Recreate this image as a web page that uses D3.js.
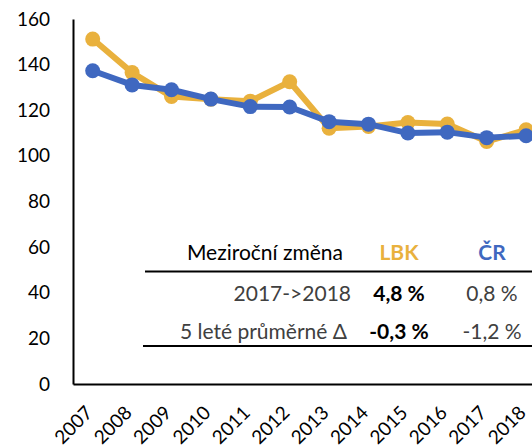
<!DOCTYPE html>
<html>
<head>
<meta charset="utf-8">
<script src="https://cdn.jsdelivr.net/npm/d3@7"></script>
<style>
    body { margin: 0; background: #fff; }
    svg { display: block; font-family: Lato, "Open Sans", sans-serif; }
</style>
</head>
<body>
<div class="graph"></div>
<script>
/* Chart data */
const years = ['2007','2008','2009','2010','2011','2012','2013','2014','2015','2016','2017','2018'];
const lbk = [151.2, 136.5, 126.0, 124.8, 124.0, 132.5, 112.1, 112.9, 114.6, 114.0, 106.3, 111.4];
const cr = [137.3, 131.1, 129.0, 124.9, 121.6, 121.4, 115.0, 113.9, 110.0, 110.4, 108.0, 108.8];
const y_ticks = [0, 20, 40, 60, 80, 100, 120, 140, 160];

const table_header = ['Meziroční změna', 'LBK', 'ČR'];
const table_rows = [
    ['2017->2018', '4,8 %', '0,8 %'],
    ['5 leté průměrné Δ', '-0,3 %', '-1,2 %']
];

const colors = { lbk: '#E9B13D', cr: '#3F68C0' };

const svg_dimensions = {
    width: 532,
    height: 448,
    left: 73,
    top: 19,
    bottom: 384,
    step: 39.4
};

let container = d3.select('.graph')
    .append('svg')
        .attr('width', svg_dimensions.width)
        .attr('height', svg_dimensions.height);

let xScale = d3.scaleBand()
    .domain(years)
    .range([svg_dimensions.left, svg_dimensions.left + svg_dimensions.step * years.length]);

let yScale = d3.scaleLinear()
    .domain([0, 160])
    .range([svg_dimensions.bottom, svg_dimensions.top]);

/* Axes */
let yAxis = container.append('g')
    .attr('transform', 'translate(' + svg_dimensions.left + ',0)')
    .call(d3.axisLeft(yScale).tickValues(y_ticks).tickSize(0).tickPadding(23));
yAxis.select('.domain').attr('stroke', '#000').attr('stroke-width', 2);
yAxis.selectAll('text').attr('font-size', 19).attr('fill', '#000').attr('font-family', 'Lato');

let xAxis = container.append('g')
    .attr('transform', 'translate(0,' + svg_dimensions.bottom + ')')
    .call(d3.axisBottom(xScale).tickSize(0).tickPadding(0));
xAxis.select('.domain').attr('stroke', '#000').attr('stroke-width', 2);
xAxis.selectAll('text')
    .attr('font-size', 19)
    .attr('fill', '#000')
    .attr('font-family', 'Lato')
    .attr('text-anchor', 'end')
    .attr('dy', 0)
    .attr('transform', 'translate(1,30) rotate(-45)');

/* Series */
const series = [
    { key: 'lbk', values: lbk },
    { key: 'cr', values: cr }
];

let line = d3.line()
    .x((d, i) => xScale(years[i]) + xScale.bandwidth() / 2)
    .y(d => yScale(d));

series.forEach(s => {
    container.append('path')
        .datum(s.values)
        .attr('fill', 'none')
        .attr('stroke', colors[s.key])
        .attr('stroke-width', 6)
        .attr('stroke-linejoin', 'round')
        .attr('d', line);

    container.append('g').selectAll('circle')
        .data(s.values).enter().append('circle')
            .attr('cx', (d, i) => xScale(years[i]) + xScale.bandwidth() / 2)
            .attr('cy', d => yScale(d))
            .attr('r', 7.5)
            .attr('fill', colors[s.key]);
});

/* Table */
const label_x = [343, 351, 347];
const col_x = [399, 492];
let table = container.append('g').attr('font-family', 'Lato').attr('font-size', 21);

table.append('text')
    .attr('x', label_x[0]).attr('y', 260)
    .attr('text-anchor', 'end')
    .text(table_header[0]);
table.append('text')
    .attr('x', col_x[0]).attr('y', 260)
    .attr('text-anchor', 'middle')
    .attr('font-weight', 'bold')
    .attr('fill', colors.lbk)
    .text(table_header[1]);
table.append('text')
    .attr('x', col_x[1]).attr('y', 260)
    .attr('text-anchor', 'middle')
    .attr('font-weight', 'bold')
    .attr('fill', colors.cr)
    .text(table_header[2]);

table.append('line')
    .attr('x1', 145).attr('x2', 532)
    .attr('y1', 271.5).attr('y2', 271.5)
    .attr('stroke', '#000').attr('stroke-width', 2);

table_rows.forEach((row, r) => {
    const y = 301 + r * 38;
    table.append('text')
        .attr('x', label_x[r + 1]).attr('y', y)
        .attr('text-anchor', 'end')
        .attr('fill', '#404040')
        .text(row[0]);
    table.append('text')
        .attr('x', col_x[0]).attr('y', y)
        .attr('text-anchor', 'middle')
        .attr('font-weight', 'bold')
        .text(row[1]);
    table.append('text')
        .attr('x', col_x[1]).attr('y', y)
        .attr('text-anchor', 'middle')
        .attr('fill', '#404040')
        .text(row[2]);
});

table.append('line')
    .attr('x1', 143).attr('x2', 532)
    .attr('y1', 346).attr('y2', 346)
    .attr('stroke', '#000').attr('stroke-width', 2);
</script>
</body>
</html>
